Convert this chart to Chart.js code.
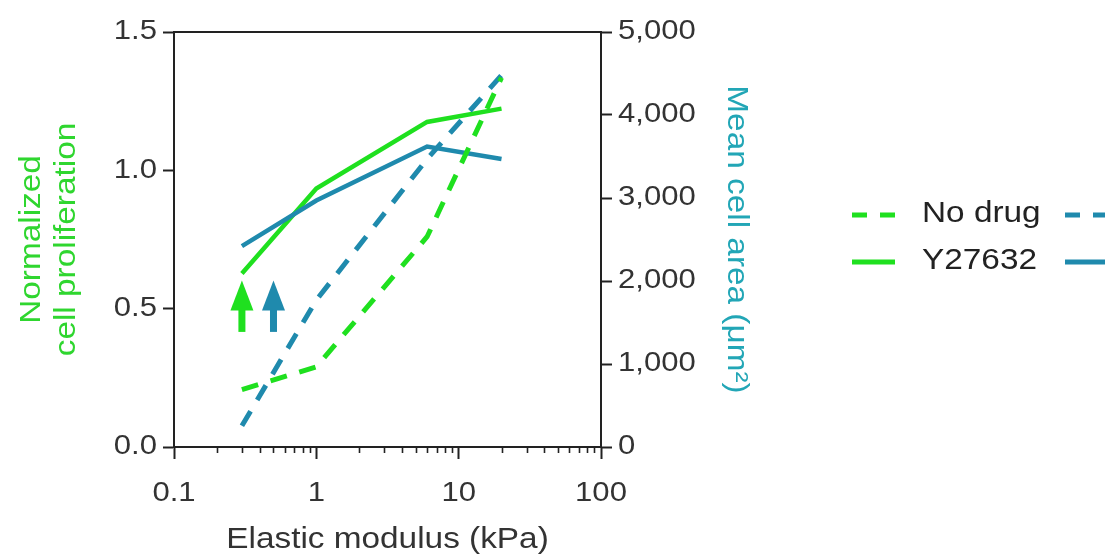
<!DOCTYPE html>
<html>
<head>
<meta charset="utf-8">
<script src="https://cdn.jsdelivr.net/npm/chart.js@4.4.1/dist/chart.umd.min.js"></script>
<style>
  html, body { margin: 0; padding: 0; background: #ffffff; }
  canvas { display: block; }
</style>
</head>
<body>
<canvas id="chart" width="1105" height="557"></canvas>
<script>
// Substrate stiffness (kPa) at which each condition was measured
const modulusKPa = [0.3, 1, 6, 20];

// Normalized cell proliferation (left axis)
const prolifNoDrug = [0.207, 0.29, 0.76, 1.335];
const prolifY27632 = [0.627, 0.934, 1.175, 1.223];

// Mean cell area in µm² (right axis)
const areaNoDrug = [255, 1770, 3470, 4480];
const areaY27632 = [2420, 2970, 3620, 3470];

// Axis ticks
const modulusTicks = [0.1, 1, 10, 100];
const prolifTicks = [0, 0.5, 1.0, 1.5];
const areaTicks = [0, 1000, 2000, 3000, 4000, 5000];

// Legend entries (one row per treatment)
const seriesNames = ['No drug', 'Y27632'];

// Threshold arrows: stiffness where each readout starts to respond,
// drawn on the proliferation scale from tail to tip
const arrowModulus = [0.3, 0.5];
const arrowSpan = [0.416, 0.602];

const GREEN = '#1fe01f';
const BLUE = '#1f8aad';
const GREEN_TITLE = '#2fd62f';
const BLUE_TITLE = '#22a6b6';
const AXIS = '#222222';
const TICK_TEXT = '#333333';
const FONT = "'Liberation Sans', Arial, sans-serif";
const TEXT_STRETCH = 1.15;   // wide-set lettering used throughout the figure

const canvas = document.getElementById('chart');
const context = canvas.getContext('2d');

// Draw every label horizontally widened around its anchor point
const nativeFillText = CanvasRenderingContext2D.prototype.fillText;
context.fillText = function (text, x, y, maxWidth) {
  this.save();
  this.translate(x, y);
  this.scale(TEXT_STRETCH, 1);
  if (maxWidth === undefined || maxWidth === null) {
    nativeFillText.call(this, text, 0, 0);
  } else {
    nativeFillText.call(this, text, 0, 0, maxWidth / TEXT_STRETCH);
  }
  this.restore();
};

const toPoints = (xs, ys) => xs.map((x, i) => ({ x, y: ys[i] }));

const lineStyle = (colour, dashed) => ({
  borderColor: colour,
  backgroundColor: colour,
  borderWidth: dashed ? 5 : 4.5,
  borderDash: dashed ? [17, 13] : [],
  pointRadius: 0,
  pointHoverRadius: 0,
  tension: 0,
  fill: false
});

// Frame top edge, minor log ticks, arrows and the two-column legend
const extrasPlugin = {
  id: 'extras',
  afterDraw(chart) {
    const { ctx, chartArea: a, scales } = chart;
    const x = scales.x, y = scales.y;
    ctx.save();

    // top edge of the frame
    ctx.strokeStyle = AXIS;
    ctx.lineWidth = 2;
    ctx.beginPath();
    ctx.moveTo(a.left, a.top);
    ctx.lineTo(a.right, a.top);
    ctx.stroke();

    // minor ticks 2..9 in each decade
    ctx.lineWidth = 1.6;
    ctx.beginPath();
    for (let d = 0.1; d < 100; d *= 10) {
      for (let m = 2; m <= 9; m++) {
        const px = Math.round(x.getPixelForValue(d * m)) + 0.5;
        ctx.moveTo(px, a.bottom);
        ctx.lineTo(px, a.bottom + 6);
      }
    }
    ctx.stroke();

    // upward arrows
    const colours = [GREEN, BLUE];
    arrowModulus.forEach((v, i) => {
      const px = x.getPixelForValue(v);
      const tail = y.getPixelForValue(arrowSpan[0]);
      const tip = y.getPixelForValue(arrowSpan[1]);
      const neck = tip + 30;
      ctx.fillStyle = colours[i];
      ctx.fillRect(px - 3.5, neck - 1, 7, tail - neck + 1);
      ctx.beginPath();
      ctx.moveTo(px, tip);
      ctx.lineTo(px + 11.5, neck);
      ctx.lineTo(px - 11.5, neck);
      ctx.closePath();
      ctx.fill();
    });

    // legend: green sample, name, blue sample
    ctx.font = '29px ' + FONT;
    ctx.textBaseline = 'middle';
    ctx.textAlign = 'left';
    seriesNames.forEach((name, i) => {
      const rowY = 214 + i * 47;
      const dashed = i === 0;
      ctx.lineWidth = 5;
      ctx.setLineDash(dashed ? [15, 13] : []);
      ctx.strokeStyle = GREEN;
      ctx.beginPath();
      ctx.moveTo(852, rowY + 1);
      ctx.lineTo(895, rowY + 1);
      ctx.stroke();
      ctx.strokeStyle = BLUE;
      ctx.beginPath();
      ctx.moveTo(1065, rowY + 1);
      ctx.lineTo(1112, rowY + 1);
      ctx.stroke();
      ctx.setLineDash([]);
      ctx.fillStyle = '#222222';
      ctx.fillText(name, 922, rowY);
    });
    ctx.restore();
  }
};

const tickFont = { family: FONT, size: 27 };
const titleFont = { family: FONT, size: 29 };

new Chart(canvas, {
  type: 'line',
  data: {
    datasets: [
      { label: seriesNames[0] + ' proliferation', data: toPoints(modulusKPa, prolifNoDrug), yAxisID: 'y', ...lineStyle(GREEN, true) },
      { label: seriesNames[0] + ' area', data: toPoints(modulusKPa, areaNoDrug), yAxisID: 'y2', ...lineStyle(BLUE, true) },
      { label: seriesNames[1] + ' area', data: toPoints(modulusKPa, areaY27632), yAxisID: 'y2', ...lineStyle(BLUE, false) },
      { label: seriesNames[1] + ' proliferation', data: toPoints(modulusKPa, prolifY27632), yAxisID: 'y', ...lineStyle(GREEN, false) }
    ]
  },
  options: {
    responsive: false,
    animation: false,
    devicePixelRatio: 1,
    layout: { padding: { top: 32, right: 352, left: 0, bottom: 0 } },
    plugins: {
      legend: { display: false },
      tooltip: { enabled: false }
    },
    scales: {
      x: {
        type: 'logarithmic',
        position: 'bottom',
        min: 0.1,
        max: 100,
        afterBuildTicks: s => { s.ticks = modulusTicks.map(v => ({ value: v, major: true })); },
        afterFit: s => { s.height = 110; },
        ticks: {
          autoSkip: false,
          maxRotation: 0,
          padding: 18,
          color: TICK_TEXT,
          font: tickFont,
          callback: v => String(v)
        },
        grid: { drawOnChartArea: false, drawTicks: true, tickLength: 12, tickColor: AXIS, tickWidth: 2 },
        border: { display: true, color: AXIS, width: 2 },
        title: { display: true, text: 'Elastic modulus (kPa)', color: TICK_TEXT, font: titleFont, padding: { top: 0, bottom: 0 } }
      },
      y: {
        position: 'left',
        min: 0,
        max: 1.5,
        afterBuildTicks: s => { s.ticks = prolifTicks.map(v => ({ value: v })); },
        afterFit: s => { s.width = 174; },
        ticks: { padding: 6, color: TICK_TEXT, font: tickFont, callback: v => Number(v).toFixed(1) },
        grid: { drawOnChartArea: false, drawTicks: true, tickLength: 11, tickColor: AXIS, tickWidth: 2 },
        border: { display: true, color: AXIS, width: 2 },
        title: { display: true, text: ['Normalized', 'cell proliferation'], color: GREEN_TITLE, font: titleFont, padding: { top: 15, bottom: 0 } }
      },
      y2: {
        position: 'right',
        min: 0,
        max: 5000,
        afterBuildTicks: s => { s.ticks = areaTicks.map(v => ({ value: v })); },
        afterFit: s => { s.width = 152; },
        ticks: { padding: 6, color: TICK_TEXT, font: tickFont, callback: v => Number(v).toLocaleString('en-US') },
        grid: { drawOnChartArea: false, drawTicks: true, tickLength: 11, tickColor: AXIS, tickWidth: 2 },
        border: { display: true, color: AXIS, width: 2 },
        title: { display: true, text: 'Mean cell area (μm²)', color: BLUE_TITLE, font: titleFont, padding: { top: 0, bottom: 0 } }
      }
    }
  },
  plugins: [extrasPlugin]
});
</script>
</body>
</html>
